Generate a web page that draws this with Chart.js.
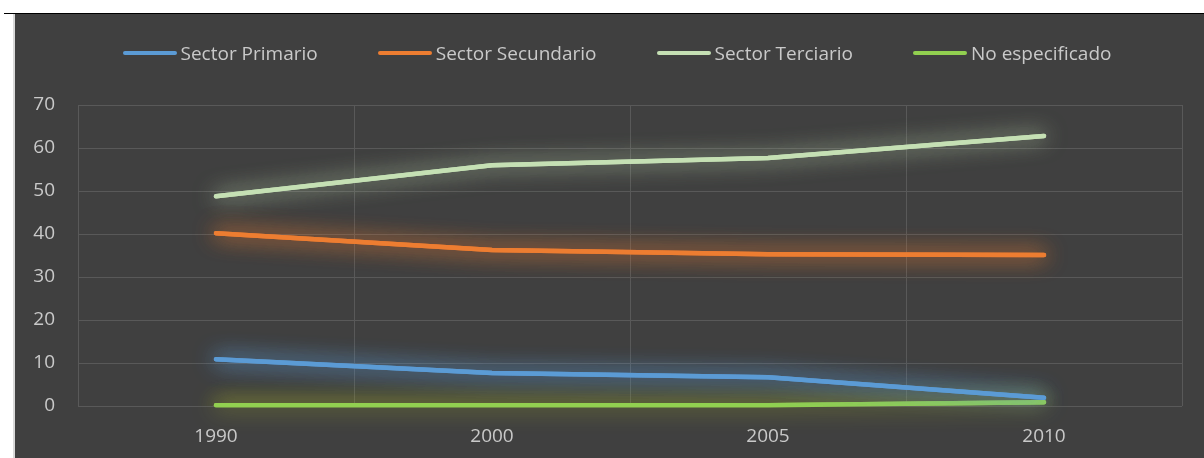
<!DOCTYPE html>
<html><head><meta charset="utf-8">
<script src="https://cdn.jsdelivr.net/npm/chart.js@4/dist/chart.umd.min.js"></script>
<style>
html,body{margin:0;padding:0;background:#fff;}
#topline{position:absolute;left:4px;top:13px;width:1200px;height:1px;background:#000;}
#frame{position:absolute;left:13px;top:14px;width:1191px;height:444px;background:#d9d9d9;}
#wrap{position:absolute;left:15px;top:14px;width:1189px;height:444px;background:#404040;}
#legend{position:absolute;left:0;top:40px;width:1234px;display:flex;justify-content:center;gap:60px;font-family:'Open Sans';font-size:19px;color:#c9c9c9;line-height:26px;}
#legend .item{display:flex;align-items:center;white-space:nowrap;}
#legend .sw{width:54px;height:4px;border-radius:2px;margin-right:4px;}
</style></head><body>
<div id="topline"></div><div id="frame"></div>
<div id="wrap"><canvas id="c" width="1189" height="444"></canvas></div>
<div id="legend"></div>
<script>
const categories = ['1990','2000','2005','2010'];
const primario = [10.9, 7.7, 6.7, 1.9];
const secundario = [40.2, 36.3, 35.3, 35.1];
const terciario = [48.8, 56.0, 57.7, 62.8];
const noEspecificado = [0.2, 0.2, 0.2, 0.9];
const seriesNames = ['Sector Primario','Sector Secundario','Sector Terciario','No especificado'];
const colors = ['#5B9BD5','#ED7D31','#C5E0B4','#92D050'];
const glows = ['rgba(91,155,213,0.9)','rgba(237,125,49,0.85)','rgba(197,224,180,0.6)','rgba(170,180,40,0.9)'];

const leg = document.getElementById('legend');
seriesNames.forEach((n,i)=>{
  const it = document.createElement('div'); it.className='item';
  const sw = document.createElement('div'); sw.className='sw'; sw.style.background=colors[i];
  const tx = document.createElement('span'); tx.textContent=n;
  it.appendChild(sw); it.appendChild(tx); leg.appendChild(it);
});

const glowPlugin = {
  id:'glow',
  beforeDatasetDraw(chart, args){
    const ctx = chart.ctx; ctx.save();
    ctx.shadowColor = glows[args.index]; ctx.shadowBlur = 22;
    args.meta.controller.draw();
  },
  afterDatasetDraw(chart){ chart.ctx.restore(); }
};

const data = [primario, secundario, terciario, noEspecificado];
new Chart(document.getElementById('c'), {
  type:'line',
  data:{labels:categories, datasets:data.map((d,i)=>({label:seriesNames[i], data:d, borderColor:colors[i], backgroundColor:colors[i], borderWidth:4.5, pointRadius:0, tension:0, borderCapStyle:'round', order:i}))},
  options:{
    responsive:false, animation:false,
    layout:{padding:{left:0,right:22,top:91,bottom:0}},
    plugins:{ legend:{display:false}, tooltip:{enabled:false} },
    scales:{
      x:{offset:true, grid:{offset:true, color:'#595959', drawTicks:false}, border:{display:false},
         ticks:{color:'#c9c9c9', font:{family:'Open Sans', size:19}, padding:19},
         afterFit(s){ s.height = 52; }},
      y:{min:0, max:70, grid:{color:'#595959', drawTicks:false}, border:{display:false},
         ticks:{stepSize:10, color:'#c9c9c9', font:{family:'Open Sans', size:19}, padding:23},
         afterFit(s){ s.width = 63; }}
    }
  },
  plugins:[glowPlugin]
});
</script>
</body></html>
